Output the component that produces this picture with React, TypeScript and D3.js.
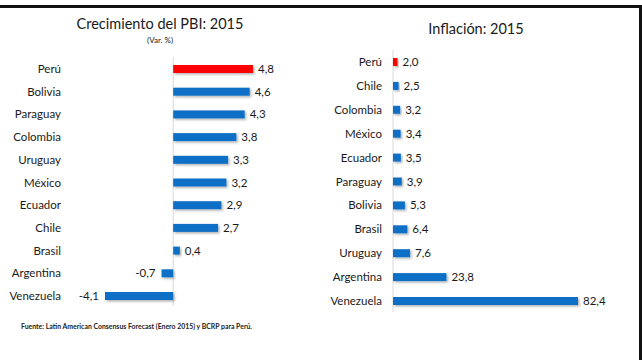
import React, { useEffect, useRef } from 'react';
import * as d3 from 'd3';

// Crecimiento del PBI 2015 (var. %)
const growthCountries = ['Perú', 'Bolivia', 'Paraguay', 'Colombia', 'Uruguay', 'México', 'Ecuador', 'Chile', 'Brasil', 'Argentina', 'Venezuela'];
const growthValues = [4.8, 4.6, 4.3, 3.8, 3.3, 3.2, 2.9, 2.7, 0.4, -0.7, -4.1];

// Inflación 2015
const inflationCountries = ['Perú', 'Chile', 'Colombia', 'México', 'Ecuador', 'Paraguay', 'Bolivia', 'Brasil', 'Uruguay', 'Argentina', 'Venezuela'];
const inflationValues = [2.0, 2.5, 3.2, 3.4, 3.5, 3.9, 5.3, 6.4, 7.6, 23.8, 82.4];

const highlight = 'Perú';
const FONT = 'Lato, "Open Sans", sans-serif';

const App = () => {
  const ref = useRef<SVGSVGElement>(null);

  useEffect(() => {
    const width = 642;
    const height = 360;

    const svg = d3.select(ref.current)
      .attr('width', width)
      .attr('height', height);

    svg.selectAll('*').remove();

    svg.append('rect')
      .attr('width', width)
      .attr('height', height)
      .attr('fill', 'white');

    // sombra suave de las barras
    const defs = svg.append('defs');
    const filter = defs.append('filter')
      .attr('id', 'shadow')
      .attr('x', '-10%').attr('y', '-40%')
      .attr('width', '130%').attr('height', '200%');
    filter.append('feDropShadow')
      .attr('dx', 1.5).attr('dy', 1.5)
      .attr('stdDeviation', 1)
      .attr('flood-color', '#000')
      .attr('flood-opacity', 0.3);

    // marco superior y derecho
    svg.append('path')
      .attr('d', `M0,6.5 H640.5 V${height}`)
      .attr('fill', 'none')
      .attr('stroke', '#111')
      .attr('stroke-width', 3);

    // coma decimal y guion simple para negativos
    const fmt = (v: number) => d3.format('.1f')(v).replace('.', ',').replace('\u2212', '-');

    const drawPanel = (opts: {
      countries: string[];
      values: number[];
      x: d3.ScaleLinear<number, number>;
      y: d3.ScalePoint<string>;
      labelX: number;
      lineTop: number;
      lineBottom: number;
    }) => {
      const { countries, values, x, y, labelX, lineTop, lineBottom } = opts;
      const rows = countries.map((c, i) => ({ country: c, value: values[i] }));
      const g = svg.append('g');
      const barH = 8;

      g.append('line')
        .attr('x1', x(0)).attr('x2', x(0))
        .attr('y1', lineTop).attr('y2', lineBottom)
        .attr('stroke', '#d9d9d9')
        .attr('stroke-width', 1);

      g.selectAll('.bar')
        .data(rows)
        .enter().append('rect')
        .attr('class', 'bar')
        .attr('x', d => Math.min(x(0), x(d.value)))
        .attr('y', d => (y(d.country) as number) - barH / 2)
        .attr('width', d => Math.abs(x(d.value) - x(0)))
        .attr('height', barH)
        .attr('fill', d => d.country === highlight ? '#ff0000' : '#0f6fc6')
        .attr('filter', 'url(#shadow)');

      g.selectAll('.country')
        .data(rows)
        .enter().append('text')
        .attr('class', 'country')
        .attr('x', labelX)
        .attr('y', d => (y(d.country) as number) + 4)
        .attr('text-anchor', 'end')
        .attr('font-family', FONT)
        .attr('font-size', 11.5)
        .attr('fill', '#1a1a1a')
        .text(d => d.country);

      g.selectAll('.value')
        .data(rows)
        .enter().append('text')
        .attr('class', 'value')
        .attr('x', d => d.value >= 0 ? x(d.value) + 5 : x(d.value) - 6)
        .attr('y', d => (y(d.country) as number) + 4)
        .attr('text-anchor', d => d.value >= 0 ? 'start' : 'end')
        .attr('font-family', FONT)
        .attr('font-size', 11.5)
        .attr('fill', '#1a1a1a')
        .text(d => fmt(d.value));
    };

    // Panel izquierdo: crecimiento
    const xGrowth = d3.scaleLinear().domain([-4.1, 4.8]).range([105, 253]);
    const yGrowth = d3.scalePoint<string>().domain(growthCountries).range([69, 296]);
    drawPanel({
      countries: growthCountries, values: growthValues,
      x: xGrowth, y: yGrowth, labelX: 61, lineTop: 57, lineBottom: 306,
    });

    svg.append('text')
      .attr('x', 160).attr('y', 29)
      .attr('text-anchor', 'middle')
      .attr('font-family', FONT)
      .attr('font-size', 14.5)
      .attr('fill', '#1a1a1a')
      .text('Crecimiento del PBI: 2015');

    svg.append('text')
      .attr('x', 160).attr('y', 43)
      .attr('text-anchor', 'middle')
      .attr('font-family', FONT)
      .attr('font-size', 8)
      .attr('fill', '#1a1a1a')
      .text('(Var. %)');

    // Panel derecho: inflación
    const xInfl = d3.scaleLinear().domain([0, 82.4]).range([393, 578]);
    const yInfl = d3.scalePoint<string>().domain(inflationCountries).range([62, 301]);
    drawPanel({
      countries: inflationCountries, values: inflationValues,
      x: xInfl, y: yInfl, labelX: 382, lineTop: 50, lineBottom: 312,
    });

    svg.append('text')
      .attr('x', 476).attr('y', 34)
      .attr('text-anchor', 'middle')
      .attr('font-family', FONT)
      .attr('font-size', 14.5)
      .attr('fill', '#1a1a1a')
      .text('Inflación: 2015');

    // Fuente
    svg.append('text')
      .attr('x', 21).attr('y', 329)
      .attr('font-family', FONT)
      .attr('font-size', 6.9)
      .attr('font-weight', 'bold')
      .attr('fill', '#222')
      .text('Fuente: Latin American Consensus Forecast (Enero 2015) y BCRP para Perú.');
  }, []);

  return (
    <svg ref={ref} style={{ position: 'absolute', left: 0, top: 0 }}></svg>
  );
};

export default App;
